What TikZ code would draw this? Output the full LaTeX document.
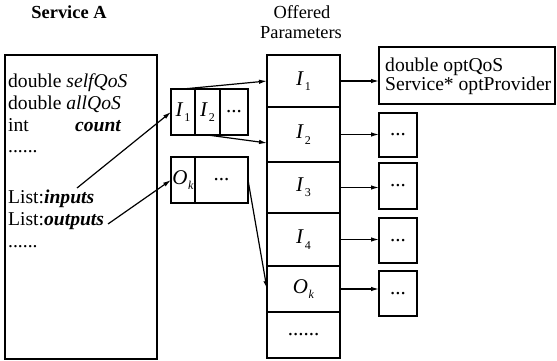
\documentclass[tikz,border=0pt]{standalone}
\usepackage{fontspec}
\setmainfont{Liberation Serif}
\usetikzlibrary{arrows.meta}

% italic symbol with a lowered upright index
\newcommand\symsub[2]{\textit{#1}\kern0.8pt\raisebox{-0.55ex}{\fontsize{12}{12}\selectfont #2}}

\begin{document}
\begin{tikzpicture}[x=1pt,y=-1pt,
  box/.style={draw, line width=1.5pt, inner sep=0pt, outer sep=0pt, anchor=north west,
              font=\fontsize{21}{23}\selectfont},
  arr/.style={-{Latex[length=8pt,width=4.5pt]}, line width=1.2pt},
  lbl/.style={anchor=base west, inner sep=0pt, font=\fontsize{19.6}{21}\selectfont},
  ttl/.style={anchor=base, inner sep=0pt, font=\fontsize{18.4}{20}\selectfont},
]
\useasboundingbox (0,0) rectangle (557,361);

% titles
\node[ttl, font=\bfseries\fontsize{18.4}{20}\selectfont] (ttlA) at (69,19) {Service A};
\node[ttl] (ttlB1) at (302,19) {Offered};
\node[ttl] (ttlB2) at (301,39) {Parameters};

% Service A
\node[box, minimum width=152pt, minimum height=304pt] (svc) at (5,55) {};
\node[lbl] (l1) at (8,88) {double \textit{selfQoS}};
\node[lbl] (l2) at (8,110) {double \textit{allQoS}};
\node[lbl] (l3) at (8,131.5) {int};
\node[lbl] (l3b) at (75,131.5) {\textbf{\textit{count}}};
\node[lbl] (l4) at (8,152) {......};
\node[lbl] (l5) at (8,203) {List:\textbf{\textit{inputs}}};
\node[lbl] (l6) at (8,225) {List:\textbf{\textit{outputs}}};
\node[lbl] (l7) at (8,247) {......};

% input and output lists
\node[box, minimum width=24pt, minimum height=46pt] (a1) at (171,89) {\symsub{I}{1}};
\node[box, minimum width=25pt, minimum height=46pt] (a2) at (195,89) {\symsub{I}{2}};
\node[box, minimum width=28pt, minimum height=46pt] (a3) at (220,89) {...};
\node[box, minimum width=24pt, minimum height=46pt] (o1) at (171,157) {\symsub{O}{\textit{k}}};
\node[box, minimum width=53pt, minimum height=46pt] (o2) at (195,157) {...};

% offered parameters column
\node[box, minimum width=73pt, minimum height=52pt] (c1) at (267,55) {\symsub{I}{1}};
\node[box, minimum width=73pt, minimum height=55pt] (c2) at (267,107) {\symsub{I}{2}};
\node[box, minimum width=73pt, minimum height=51pt] (c3) at (267,162) {\symsub{I}{3}};
\node[box, minimum width=73pt, minimum height=53pt] (c4) at (267,213) {\symsub{I}{4}};
\node[box, minimum width=73pt, minimum height=46pt] (c5) at (267,266) {\symsub{O}{\textit{k}}};
\node[box, minimum width=73pt, minimum height=46pt] (c6) at (267,312) {......};

% per-parameter records
\node[box, minimum width=176pt, minimum height=57pt] (r1) at (379,47) {};
\node[lbl] (r1a) at (385,72) {double optQoS};
\node[lbl] (r1b) at (385,91) {Service* optProvider};
\node[box, minimum width=38pt, minimum height=44pt] (r2) at (379,113) {...};
\node[box, minimum width=38pt, minimum height=46pt] (r3) at (379,163) {...};
\node[box, minimum width=38pt, minimum height=45pt] (r4) at (379,218) {...};
\node[box, minimum width=38pt, minimum height=45pt] (r5) at (379,271) {...};

% connectors
\coordinate (inp) at (77,188);
\coordinate (outp) at (108,224);
\draw[arr] (inp) -- (a1.west);
\draw[arr] (outp) -- (o1.west);
\draw[arr] (a1.north) -- (c1.west);
\draw[arr] (a2.south) -- ([yshift=-8.5pt]c2.west);
\draw[arr] (o2.east) -- (c5.west);
\draw[arr] (c1.east) -- (c1.east -| r1.west);
\draw[arr] (c2.east) -- (c2.east -| r2.west);
\draw[arr] (c3.east) -- (c3.east -| r3.west);
\draw[arr] (c4.east) -- (c4.east -| r4.west);
\draw[arr] (c5.east) -- (c5.east -| r5.west);
\end{tikzpicture}
\end{document}
